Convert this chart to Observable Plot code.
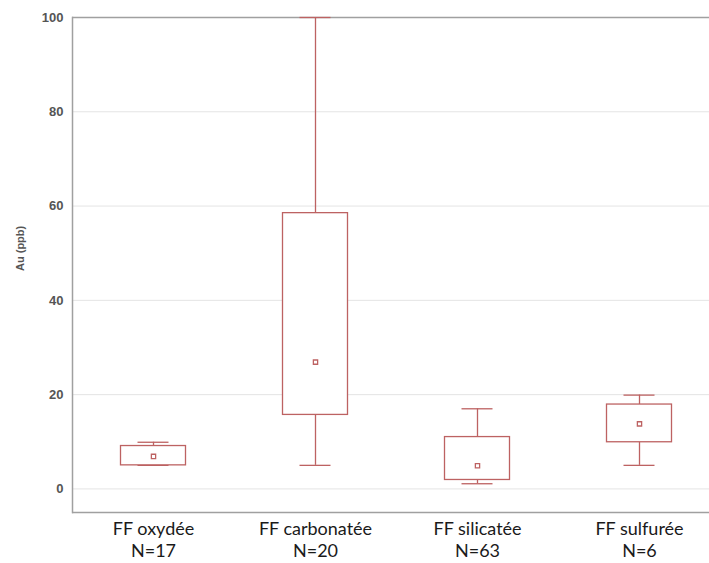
<!DOCTYPE html>
<html>
<head>
<meta charset="utf-8">
<script src="https://cdn.jsdelivr.net/npm/d3@7"></script>
<script src="https://cdn.jsdelivr.net/npm/@observablehq/plot@0.6"></script>
<style>
  html, body { margin: 0; padding: 0; background: #fff; }
</style>
</head>
<body>
<div id="chart"></div>
<script>
const categories = ["FF oxydée", "FF carbonatée", "FF silicatée", "FF sulfurée"];
const counts = ["N=17", "N=20", "N=63", "N=6"];
const mins = [5, 5, 1.1, 5];
const q1s = [5, 15.7, 1.9, 9.9];
const q3s = [9.1, 58.5, 11, 17.9];
const maxs = [9.9, 100, 17, 19.9];
const means = [6.9, 26.9, 4.9, 13.8];
const yTicks = [0, 20, 40, 60, 80, 100];
const yLabel = "Au (ppb)";

const data = categories.map((c, i) => ({
  cat: c, min: mins[i], q1: q1s[i], q3: q3s[i], max: maxs[i], mean: means[i]
}));
const labelOf = Object.fromEntries(categories.map((c, i) => [c, c + "\n" + counts[i]]));

const boxColor = "#bd6262";
const axisColor = "#a0a0a0";

const chart = Plot.plot({
  width: 709,
  height: 563,
  marginTop: 17,
  marginLeft: 72,
  marginRight: 0,
  marginBottom: 51,
  style: { overflow: "hidden" },
  x: { type: "band", domain: categories, range: [72, 720], padding: 0 },
  y: { domain: [-5, 100], range: [512, 17] },
  marks: [
    Plot.gridY(yTicks.filter(d => d < 100), { stroke: "#e4e4e4", strokeOpacity: 1 }),
    Plot.frame({ anchor: "left", stroke: axisColor, strokeWidth: 1.5 }),
    Plot.ruleY([100], { stroke: axisColor, strokeWidth: 1.5 }),
    Plot.ruleY([-5], { stroke: axisColor, strokeWidth: 1.5 }),
    Plot.axisY(yTicks, {
      tickSize: 0, tickPadding: 9, label: null,
      fontSize: 13, fontWeight: "bold", fill: "#555", fontFamily: "Liberation Sans, Arial, sans-serif"
    }),
    Plot.axisX({
      tickSize: 0, tickPadding: 7, label: null,
      tickFormat: d => labelOf[d],
      fontSize: 18, fill: "#1a1a1a", lineHeight: 1.22,
      fontFamily: "Lato, Calibri, sans-serif"
    }),
    Plot.text([yLabel], {
      frameAnchor: "left", rotate: -90, dx: -52, dy: 6,
      fontSize: 11, fontWeight: "bold", fill: "#555",
      fontFamily: "Liberation Sans, Arial, sans-serif"
    }),
    Plot.ruleX(data, { x: "cat", y1: "min", y2: "q1", stroke: boxColor, strokeWidth: 1.3 }),
    Plot.ruleX(data, { x: "cat", y1: "q3", y2: "max", stroke: boxColor, strokeWidth: 1.3 }),
    Plot.tickY(data, { x: "cat", y: "min", insetLeft: 65.5, insetRight: 65.5, stroke: boxColor, strokeWidth: 1.3 }),
    Plot.tickY(data, { x: "cat", y: "max", insetLeft: 65.5, insetRight: 65.5, stroke: boxColor, strokeWidth: 1.3 }),
    Plot.barY(data, { x: "cat", y1: "q1", y2: "q3", insetLeft: 48.5, insetRight: 48.5, fill: "white", stroke: boxColor, strokeWidth: 1.3 }),
    Plot.dot(data, { x: "cat", y: "mean", symbol: "square", r: 2.4, fill: "white", stroke: boxColor, strokeWidth: 1.3 })
  ]
});
document.getElementById("chart").appendChild(chart);
</script>
</body>
</html>
